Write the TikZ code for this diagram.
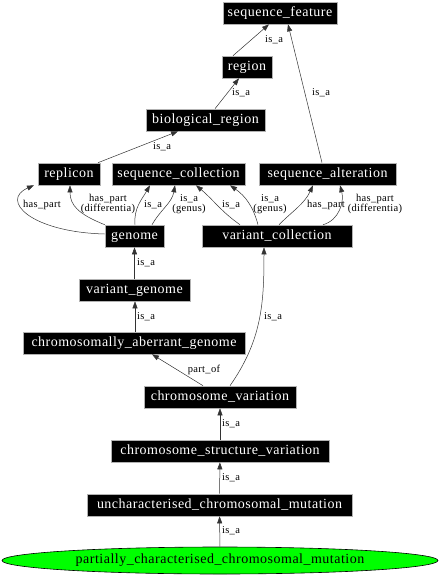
\documentclass[tikz,border=0pt]{standalone}
\usepackage{fontspec}
\setmainfont{Liberation Serif}
\newfontfamily\nodefont{Liberation Serif}[LetterSpace=3.5]
\newfontfamily\labfont{Liberation Serif}[LetterSpace=3]
\usetikzlibrary{arrows.meta,shapes.geometric}
\tikzset{
  term/.style={rectangle, fill=black, draw=gray!60, line width=0.6pt, text=white,
    font=\nodefont\fontsize{14}{14}\selectfont, minimum height=22pt, inner sep=0pt,
    text height=9.5pt, text depth=3pt},
  focus/.style={ellipse, fill=green, draw=black, line width=0.6pt, text=black,
    font=\nodefont\fontsize{14}{14}\selectfont, minimum height=27pt, inner sep=0pt,
    text height=9.5pt, text depth=3pt},
  rel/.style={draw=black!80, line width=0.5pt, -{Triangle[length=7pt,width=5pt]}},
  lab/.style={font=\labfont\fontsize{10.5}{9.5}\selectfont, inner sep=0pt, align=center}
}
\begin{document}
\begin{tikzpicture}[x=1pt,y=1pt]
\useasboundingbox (0,0) rectangle (441,-576);
% nodes
\node[term, minimum width=114pt] (sf) at (280,-13) {sequence\_feature};
\node[term, minimum width=50pt] (reg) at (247,-67) {region};
\node[term, minimum width=119pt] (bio) at (205.5,-120) {biological\_region};
\node[term, minimum width=62pt] (rep) at (69,-174) {replicon};
\node[term, minimum width=133pt] (sc) at (178.5,-174) {sequence\_collection};
\node[term, minimum width=137pt] (sa) at (327.5,-174) {sequence\_alteration};
\node[term, minimum width=59pt] (gen) at (134.5,-236) {genome};
\node[term, minimum width=150pt] (vc) at (277,-236) {variant\_collection};
\node[term, minimum width=111pt] (vg) at (134.5,-290) {variant\_genome};
\node[term, minimum width=222pt] (cag) at (134,-343) {chromosomally\_aberrant\_genome};
\node[term, minimum width=152pt] (cv) at (220,-397) {chromosome\_variation};
\node[term, minimum width=218pt] (csv) at (220,-451) {chromosome\_structure\_variation};
\node[term, minimum width=265pt] (ucm) at (219.5,-505) {uncharacterised\_chromosomal\_mutation};
\node[focus, minimum width=436pt] (pcm) at (220,-560.5) {partially\_characterised\_chromosomal\_mutation};
% edges
\draw[rel] (reg.north -| 233,0) -- (sf.south -| 269,0);
\draw[rel] (sa.north -| 322,0) -- (sf.south -| 288,0);
\draw[rel] (bio.north -| 215,0) -- (reg.south -| 239,0);
\draw[rel] (rep.north -| 98,0) -- (bio.south -| 178,0);
\draw[rel] (gen.west |- 0,-234) .. controls (30,-232) and (0,-200) .. (rep.south -| 34,0);
\draw[rel] (gen.north west) .. controls (78,-214) and (70,-205) .. (rep.south -| 70,0);
\draw[rel] (gen.north -| 135,0) to[out=95,in=-120] (sc.south -| 150,0);
\draw[rel] (gen.north -| 152,0) to[out=60,in=-100] (sc.south -| 175,0);
\draw[rel] (vc.north -| 240,0) to[out=145,in=-40] (sc.south -| 196,0);
\draw[rel] (vc.north -| 258,0) to[out=105,in=-35] (sc.south -| 230,0);
\draw[rel] (vc.north -| 279,0) to[out=45,in=-115] (sa.south -| 313,0);
\draw[rel] (vc.north -| 323,0) to[out=15,in=-75] (sa.south -| 340,0);
\draw[rel] (vg) -- (gen);
\draw[rel] (cag.north -| 135,0) -- (vg.south -| 135,0);
\draw[rel] (cv.north -| 203,0) -- (cag.south -| 152,0);
\draw[rel] (cv.north -| 230,0) to[out=55,in=-90] (vc.south -| 264,0);
\draw[rel] (csv) -- (cv);
\draw[rel] (ucm) -- (csv);
\draw[rel] (pcm) -- (ucm);
% edge labels
\node[lab] (l1) at (274,-40) {is\_a};
\node[lab] (l2) at (321,-93) {is\_a};
\node[lab] (l3) at (241,-93) {is\_a};
\node[lab] (l4) at (162,-147) {is\_a};
\node[lab] (l5) at (42,-205) {has\_part};
\node[lab] (l6) at (108,-204) {has\_part\\(differentia)};
\node[lab] (l7) at (153,-205) {is\_a};
\node[lab] (l8) at (189,-204) {is\_a\\(genus)};
\node[lab] (l9) at (231,-205) {is\_a};
\node[lab] (l10) at (270,-204) {is\_a\\(genus)};
\node[lab] (l11) at (326,-205) {has\_part};
\node[lab] (l12) at (375,-204) {has\_part\\(differentia)};
\node[lab] (l13) at (146,-263) {is\_a};
\node[lab] (l14) at (146,-317) {is\_a};
\node[lab] (l15) at (204,-370) {part\_of};
\node[lab] (l16) at (273,-317) {is\_a};
\node[lab] (l17) at (231,-424) {is\_a};
\node[lab] (l18) at (231,-478) {is\_a};
\node[lab] (l19) at (231,-531) {is\_a};
\end{tikzpicture}
\end{document}
